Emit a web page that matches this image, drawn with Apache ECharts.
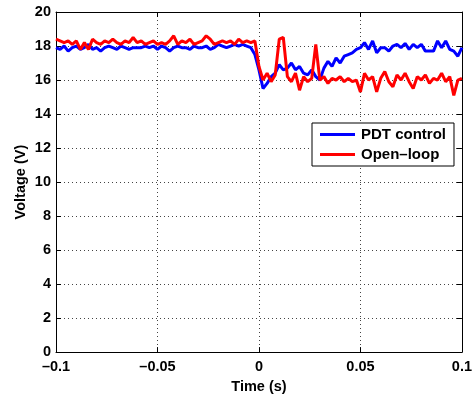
<!DOCTYPE html>
<html>
<head>
<meta charset="utf-8">
<style>
  html, body { margin: 0; padding: 0; background: #fff; }
  #chart { width: 475px; height: 399px; }
</style>
<script src="https://cdn.jsdelivr.net/npm/echarts@6/dist/echarts.min.js"></script>
</head>
<body>
<div id="chart"></div>
<script>
// Sampling grid of the recorded waveforms (s)
const tStart = -0.1;
const tStep = 0.002;

// Output voltage with PDT control (V), one sample per tStep from tStart
const pdtControl = [
  17.9, 17.8, 18.0, 17.7, 17.9, 18.0, 17.8, 17.9, 18.1, 17.8,
  17.9, 17.7, 17.9, 18.0, 17.9, 17.8, 18.0, 17.9, 17.8, 17.9,
  17.9, 17.9, 18.0, 17.9, 18.0, 17.8, 18.0, 17.9, 17.7, 17.9,
  18.0, 17.9, 17.9, 17.8, 18.0, 17.9, 17.9, 18.0, 17.8, 17.9,
  18.1, 18.0, 17.9, 18.0, 18.1, 18.0, 18.1, 18.0, 17.9, 17.5,
  16.6, 15.5, 15.8, 16.2, 16.4, 16.9, 16.6, 16.7, 17.0, 16.6,
  16.8, 16.4, 16.3, 16.6, 16.2, 16.0, 16.7, 17.1, 16.8, 17.3,
  17.0, 17.4, 17.5, 17.6, 17.8, 17.9, 18.2, 17.8, 18.3, 17.6,
  17.9, 17.9, 17.7, 18.0, 18.1, 17.9, 18.15, 17.8, 18.1, 17.9,
  18.1, 17.7, 17.7, 17.7, 18.3, 17.9, 18.3, 17.8, 17.7, 17.4,
  17.9
];

// Output voltage in open loop (V)
const openLoop = [
  18.4, 18.3, 18.2, 18.3, 18.1, 18.3, 17.8, 18.2, 17.8, 18.4,
  18.2, 18.1, 18.3, 18.2, 18.4, 18.2, 18.1, 18.3, 18.2, 18.5,
  18.2, 18.3, 18.1, 18.2, 18.3, 18.1, 18.2, 18.1, 18.3, 18.6,
  18.1, 18.3, 18.2, 18.4, 18.1, 18.2, 18.3, 18.6, 18.4, 18.1,
  18.2, 18.3, 18.2, 18.3, 18.1, 18.4, 18.2, 18.3, 18.2, 18.3,
  16.8, 16.0, 16.4, 15.9, 16.3, 18.4, 18.5, 16.2, 15.9, 16.4,
  15.4, 16.2, 15.9, 16.1, 18.1, 16.0, 16.2, 15.8, 16.1, 16.0,
  16.2, 15.9, 16.1, 15.9, 16.0, 15.3, 16.4, 16.0, 16.2, 15.3,
  16.1, 16.5, 15.9, 15.6, 16.3, 16.0, 16.4, 15.9, 15.5, 16.2,
  16.0, 16.3, 15.8, 16.1, 16.0, 16.4, 15.9, 16.2, 15.1, 16.0,
  16.1
];

const seriesNames = ['PDT control', 'Open\u2013loop'];
const xTickLabels = ['\u20130.1', '\u20130.05', '0', '0.05', '0.1'];
const yTickLabels = ['0', '2', '4', '6', '8', '10', '12', '14', '16', '18', '20'];

function toPairs(values) {
  return values.map((v, i) => [tStart + i * tStep, v]);
}

const font = '"Liberation Sans", Arial, Helvetica, sans-serif';
const gridLine = { show: true, lineStyle: { color: '#444', width: 1, type: [1, 3] } };
const axisLine = { show: true, onZero: false, lineStyle: { color: '#000', width: 1 } };
const tick = { show: true, inside: true, length: 5, lineStyle: { color: '#000' } };
const labelStyle = { fontFamily: font, fontWeight: 'bold', fontSize: 14.5, color: '#000' };

const chart = echarts.init(document.getElementById('chart'), null, { renderer: 'canvas' });

chart.setOption({
  animation: false,
  backgroundColor: '#fff',
  grid: { left: 56, right: 13, top: 12, bottom: 44, containLabel: false },
  legend: {
    orient: 'vertical',
    left: 312,
    top: 123,
    padding: [4, 8, 4, 8],
    itemGap: 5,
    itemWidth: 35,
    itemHeight: 3,
    icon: 'rect',
    backgroundColor: '#fff',
    borderColor: '#000',
    borderWidth: 1,
    borderRadius: 0,
    textStyle: { fontFamily: font, fontWeight: 'bold', fontSize: 15, color: '#000', padding: [0, 0, 0, 1] },
    data: seriesNames
  },
  xAxis: [
    {
      type: 'value', position: 'bottom', min: -0.1, max: 0.1, interval: 0.05,
      axisLine, axisTick: tick, splitLine: gridLine,
      axisLabel: Object.assign({ margin: 7, formatter: (v, i) => xTickLabels[i] }, labelStyle),
      name: 'Time (s)', nameLocation: 'middle', nameGap: 18,
      nameTextStyle: labelStyle
    },
    {
      type: 'value', position: 'top', min: -0.1, max: 0.1, interval: 0.05,
      axisLine, axisTick: tick, splitLine: { show: false }, axisLabel: { show: false }
    }
  ],
  yAxis: [
    {
      type: 'value', position: 'left', min: 0, max: 20, interval: 2,
      axisLine, axisTick: tick, splitLine: gridLine,
      axisLabel: Object.assign({ margin: 5, formatter: (v, i) => yTickLabels[i] }, labelStyle),
      name: 'Voltage (V)', nameLocation: 'middle', nameGap: 28, nameMoveOverlap: false,
      nameTextStyle: labelStyle
    },
    {
      type: 'value', position: 'right', min: 0, max: 20, interval: 2,
      axisLine, axisTick: tick, splitLine: { show: false }, axisLabel: { show: false }
    }
  ],
  series: [
    {
      name: seriesNames[0], type: 'line', data: toPairs(pdtControl),
      showSymbol: false, symbol: 'none', clip: true,
      lineStyle: { color: '#0000ff', width: 3 }, itemStyle: { color: '#0000ff' }
    },
    {
      name: seriesNames[1], type: 'line', data: toPairs(openLoop),
      showSymbol: false, symbol: 'none', clip: true,
      lineStyle: { color: '#ff0000', width: 3 }, itemStyle: { color: '#ff0000' }
    }
  ]
});
</script>
</body>
</html>
